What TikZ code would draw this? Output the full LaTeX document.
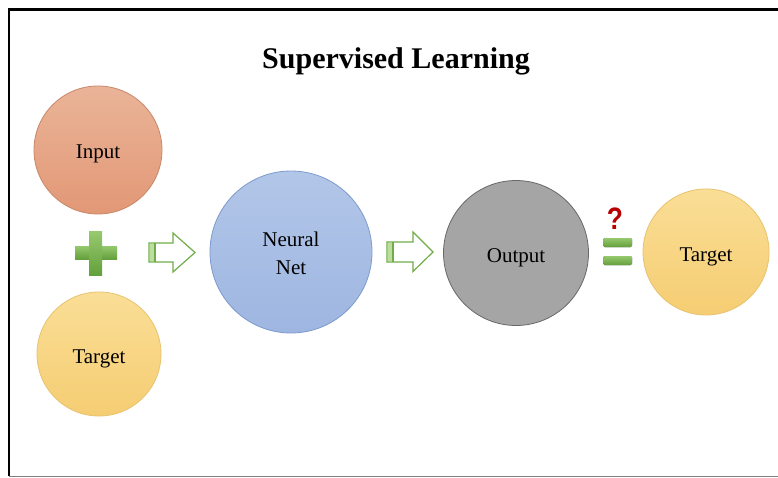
\documentclass[tikz,border=0pt]{standalone}
\usepackage{fontspec}
\setmainfont{Liberation Serif}
\newfontfamily\qfont{Liberation Sans}
\definecolor{ingreen}{RGB}{112,173,71}
\definecolor{lightgreen}{RGB}{190,220,160}
\definecolor{qred}{RGB}{185,0,0}
\tikzset{
  circ/.style={circle, draw, line width=0.8pt, inner sep=0pt, align=center,
    font=\fontsize{21}{28}\selectfont, text=black, text height=18pt, text depth=0pt},
  inputcirc/.style={circ, draw={rgb,255:red,200;green,135;blue,105},
    top color={rgb,255:red,234;green,180;blue,152}, bottom color={rgb,255:red,226;green,152;blue,118}},
  targetcirc/.style={circ, draw={rgb,255:red,232;green,195;blue,110},
    top color={rgb,255:red,250;green,222;blue,150}, bottom color={rgb,255:red,245;green,205;blue,115}},
  netcirc/.style={circ, draw={rgb,255:red,125;green,155;blue,205},
    top color={rgb,255:red,178;green,198;blue,232}, bottom color={rgb,255:red,158;green,182;blue,225}},
  outcirc/.style={circ, draw={rgb,255:red,105;green,105;blue,105},
    fill={rgb,255:red,165;green,165;blue,165}},
  blockarrow/.style={draw=ingreen, line width=1.2pt, fill=white, line join=miter},
  greenbar/.style={top color={rgb,255:red,150;green,200;blue,110}, bottom color={rgb,255:red,100;green,160;blue,60}, draw=none}
}
\begin{document}
\begin{tikzpicture}[x=1pt,y=-1pt]
\useasboundingbox (0,0) rectangle (778,478);
\fill[white] (0,0) rectangle (778,478);
% frame
\draw[line width=3pt] (8,10) -- (778,10);
\draw[line width=2pt] (9,10) -- (9,476);
\draw[line width=1.5pt, gray] (9,476.5) -- (778,476.5);
% title
\node[font=\fontsize{30}{34}\selectfont\bfseries] (title) at (396,61) {Supervised Learning};
% circles
\node[inputcirc, minimum size=128pt] (input) at (98,150) {Input};
\node[targetcirc, minimum size=124pt] (target1) at (99,354) {Target};
\node[netcirc, minimum size=162pt, text height=44pt] (net) at (291,252) {Neural\\Net};
\node[outcirc, minimum size=145pt] (output) at (516,253) {Output};
\node[targetcirc, minimum size=126pt] (target2) at (706,252) {Target};
% plus sign
\fill[greenbar] (75,246) rectangle (117,259);
\fill[greenbar] (89,232) rectangle (102,275);
% arrow 1
\draw[blockarrow] (149,243) -- (173,243) -- (173,233) -- (195,252.5) -- (173,272) -- (173,262) -- (149,262) -- cycle;
\fill[lightgreen] (149.6,243.6) rectangle (155,261.4);
\draw[ingreen, line width=1.2pt] (155,243) -- (155,262);
% arrow 2
\draw[blockarrow] (387,242) -- (413,242) -- (413,232) -- (433,252) -- (413,271.5) -- (413,262) -- (387,262) -- cycle;
\fill[lightgreen] (387.6,242.6) rectangle (393,261.4);
\draw[ingreen, line width=1.2pt] (393,242) -- (393,262);
% equals with question mark
\fill[greenbar, rounded corners=1.5pt] (603,238) rectangle (632,247);
\fill[greenbar, rounded corners=1.5pt] (603,256) rectangle (632,265);
\node[text=qred, font=\fontsize{31}{33}\selectfont\qfont\bfseries, inner sep=0pt, xscale=0.85] (q) at (615,219) {?};
\end{tikzpicture}
\end{document}
